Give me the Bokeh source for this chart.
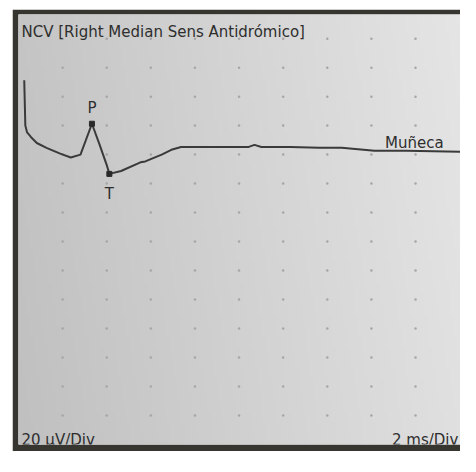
import numpy as np
from bokeh.plotting import figure
from bokeh.models import Range1d, Label, Spacer
from bokeh.layouts import row, column
from bokeh.embed import file_html
from bokeh.resources import INLINE

# ---- data (time in ms, amplitude in µV) ----
time_ms = [0.26, 0.31, 0.39, 0.57, 0.83, 1.27, 1.89, 2.37, 2.81, 3.33, 3.68, 3.99,
           4.12, 4.65, 5.53, 5.75, 6.49, 6.93, 7.37, 9.25, 10.44, 10.70, 11.01,
           12.32, 13.64, 14.65, 16.14, 17.59, 20.04]
amp_uv = [51.3, 20.0, 15.3, 12.0, 8.0, 4.7, 0.7, -2.0, 0.0, 21.3, 6.7, -6.7,
          -13.3, -11.3, -5.3, -4.7, 0.0, 3.3, 5.3, 5.3, 5.3, 6.7, 5.3,
          5.3, 4.7, 4.7, 2.7, 2.7, 2.0]
marker_names = ["P", "T"]
marker_time = [3.33, 4.12]
marker_amp = [21.3, -13.3]
title_text = "NCV [Right Median Sens Antidrómico]"
site_label = "Muñeca"
site_time = 16.62
site_amp = 2.7
y_scale_text = "20 µV/Div"
x_scale_text = "2 ms/Div"

X0, X1 = 0.0, 20.04
Y0, Y1 = -200.0, 96.667

FONT = "DejaVu Sans"
INK = "#2e2e2e"
FS = "15px"

p = figure(width=448, height=442, output_backend="svg", toolbar_location=None,
           x_range=Range1d(X0, X1), y_range=Range1d(Y0, Y1),
           x_axis_type=None, y_axis_type=None)
p.min_border_left = 6
p.min_border_top = 5
p.min_border_bottom = 7
p.min_border_right = 0
p.border_fill_color = "#36352f"
p.background_fill_color = "#d2d2d2"
p.outline_line_color = None
p.xgrid.visible = False
p.ygrid.visible = False

# panel gradient (lighter towards right)
nx, ny = 120, 40
gx = np.linspace(0, 1, nx)[None, :]
gy = np.linspace(0, 1, ny)[:, None]
val = (192 + 32 * gx + 5 * gy).astype(np.uint8)  # gy=0 is bottom
img = np.empty((ny, nx), dtype=np.uint32)
v = img.view(dtype=np.uint8).reshape((ny, nx, 4))
v[:, :, 0] = val
v[:, :, 1] = val
v[:, :, 2] = val
v[:, :, 3] = 255
p.image_rgba(image=[img], x=X0, y=Y0, dw=X1 - X0, dh=Y1 - Y0, level="image")

# dotted grid
gt, gv = np.meshgrid(np.arange(2, 19, 2), np.arange(-180, 81, 20))
p.scatter(gt.ravel(), gv.ravel(), size=2.5, color="#a6a6a6", marker="circle", line_color=None)

# trace
p.line(time_ms, amp_uv, line_color="#3a3a3a", line_width=2)

# markers
p.scatter(marker_time, marker_amp, marker="square", size=5, color="#2a2a2a")
p.add_layout(Label(x=marker_time[0], y=marker_amp[0], text=marker_names[0], y_offset=15.5,
                   text_align="center", text_baseline="alphabetic",
                   text_font=FONT, text_font_size=FS, text_color=INK))
p.add_layout(Label(x=marker_time[1], y=marker_amp[1], text=marker_names[1], y_offset=-20,
                   text_align="center", text_baseline="alphabetic",
                   text_font=FONT, text_font_size=FS, text_color=INK))

# texts
p.add_layout(Label(x=X0, y=Y1, text=title_text, x_offset=3, y_offset=-17.5,
                   text_baseline="alphabetic", text_font=FONT, text_font_size=FS,
                   text_color=INK))
p.add_layout(Label(x=site_time, y=site_amp, text=site_label, y_offset=7.7,
                   text_baseline="alphabetic", text_font=FONT, text_font_size=FS,
                   text_color=INK))
p.add_layout(Label(x=X0, y=Y0, text=y_scale_text, x_offset=3, y_offset=4.5,
                   text_baseline="alphabetic", text_font=FONT, text_font_size=FS,
                   text_color=INK))
p.add_layout(Label(x=X1, y=Y0, text=x_scale_text, x_offset=-68.5, y_offset=4.5,
                   text_baseline="alphabetic", text_font=FONT, text_font_size=FS,
                   text_color=INK))

layout = column(Spacer(width=460, height=9), row(Spacer(width=12, height=442), p))
open("out.html", "w").write(file_html(layout, INLINE))
